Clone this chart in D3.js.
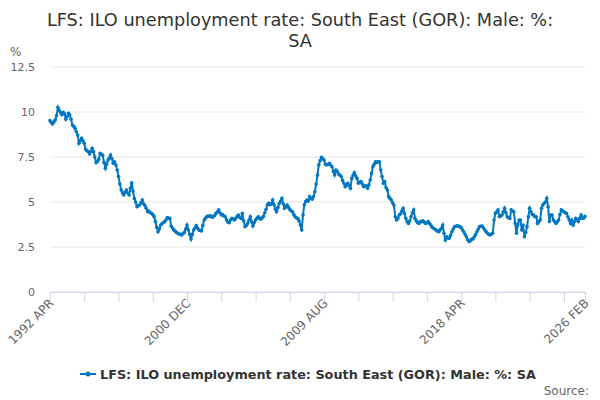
<!DOCTYPE html>
<html>
<head>
<meta charset="utf-8">
<title>LFS: ILO unemployment rate: South East (GOR): Male: %: SA</title>
<script src="https://d3js.org/d3.v7.min.js"></script>
<style>
  body { margin: 0; background: #fff; }
  svg { font-family: "DejaVu Sans", sans-serif; }
</style>
</head>
<body>
<div id="chart"></div>
<script>
// monthly values, 1992 APR .. 2026 FEB
const startYear = 1992, startMonth = 3; // APR
const monthNames = ["JAN","FEB","MAR","APR","MAY","JUN","JUL","AUG","SEP","OCT","NOV","DEC"];

const values = [
  // 1992 (Apr-Dec)
  9.52, 9.4, 9.33, 9.45, 9.56, 9.8, 10.26, 10.1, 9.96,
  // 1993
  9.85, 9.98, 9.9, 9.6, 9.75, 9.93, 9.83, 9.6, 9.28, 9.2, 9.09, 8.9,
  // 1994
  8.72, 8.26, 8.4, 8.54, 8.4, 8.26, 7.93, 7.85, 7.8, 7.67, 7.8, 7.98,
  // 1995
  7.8, 7.5, 7.18, 7.25, 7.37, 7.7, 7.65, 7.6, 7.2, 6.87, 7.1, 7.33,
  // 1996
  7.45, 7.61, 7.4, 7.15, 7.24, 7.05, 6.78, 6.41, 6.0, 5.67, 5.5, 5.39,
  // 1997
  5.55, 5.67, 5.5, 5.39, 5.76, 6.07, 5.6, 5.2, 5.0, 4.74, 4.8, 4.83,
  // 1998
  4.95, 5.11, 4.9, 4.8, 4.65, 4.46, 4.5, 4.4, 4.37, 4.3, 4.19, 3.91,
  // 1999
  3.6, 3.35, 3.5, 3.72, 3.8, 3.85, 3.91, 4.0, 4.13, 4.1, 4.09, 3.65,
  // 2000
  3.55, 3.44, 3.38, 3.3, 3.26, 3.22, 3.2, 3.17, 3.25, 3.31, 3.5, 3.72,
  // 2001
  3.44, 3.2, 2.94, 3.2, 3.44, 3.55, 3.69, 3.55, 3.44, 3.42, 3.39, 3.7,
  // 2002
  4.0, 4.1, 4.19, 4.22, 4.2, 4.24, 4.15, 4.19, 4.25, 4.37, 4.45, 4.56,
  // 2003
  4.4, 4.28, 4.3, 4.22, 4.18, 4.0, 3.88, 3.85, 4.0, 4.09, 4.05, 4.0,
  // 2004
  4.1, 4.2, 4.28, 4.15, 4.09, 4.37, 3.95, 3.63, 3.7, 3.81, 4.0, 4.18,
  // 2005
  3.9, 3.67, 3.85, 4.0, 4.1, 4.18, 4.1, 4.04, 4.12, 4.2, 4.4, 4.6,
  // 2006
  4.85, 4.93, 4.85, 4.9, 5.11, 4.85, 4.6, 4.46, 4.7, 4.93, 5.05, 5.2,
  // 2007
  4.9, 4.65, 4.75, 4.83, 4.7, 4.59, 4.5, 4.46, 4.3, 4.18, 4.12, 4.09,
  // 2008
  3.95, 3.72, 3.44, 4.28, 4.85, 5.02, 5.11, 5.05, 5.3, 5.2, 5.15, 5.3,
  // 2009
  5.57, 6.0, 6.5, 7.06, 7.3, 7.48, 7.4, 7.33, 7.1, 7.06, 7.1, 7.15,
  // 2010
  7.05, 6.96, 6.7, 6.5, 6.78, 6.7, 6.55, 6.5, 6.41, 6.2, 6.04, 5.85,
  // 2011
  5.95, 6.04, 5.9, 5.76, 6.31, 6.5, 6.63, 6.45, 6.31, 6.04, 6.1, 6.13,
  // 2012
  6.0, 5.85, 5.9, 5.89, 5.76, 5.95, 6.22, 6.59, 6.96, 7.1, 7.24, 7.2,
  // 2013
  7.24, 7.24, 6.78, 6.41, 6.04, 6.13, 5.8, 5.67, 5.3, 5.2, 5.11, 4.95,
  // 2014
  4.83, 4.18, 4.0, 4.1, 4.28, 4.35, 4.5, 4.65, 4.37, 4.1, 3.91, 3.81,
  // 2015
  3.95, 4.18, 4.4, 4.56, 4.09, 3.95, 3.85, 3.81, 3.91, 3.9, 3.96, 3.88,
  // 2016
  3.81, 3.85, 3.91, 3.8, 3.72, 3.6, 3.54, 3.5, 3.44, 3.38, 3.35, 3.45,
  // 2017
  3.54, 3.72, 3.26, 2.89, 3.07, 3.0, 2.98, 3.15, 3.35, 3.5, 3.63, 3.65,
  // 2018
  3.68, 3.67, 3.62, 3.59, 3.45, 3.35, 3.2, 3.07, 2.9, 2.8, 2.85, 2.93,
  // 2019
  2.95, 3.07, 3.2, 3.35, 3.5, 3.63, 3.65, 3.67, 3.55, 3.44, 3.35, 3.26,
  // 2020
  3.2, 3.17, 3.22, 3.26, 4.0, 4.37, 4.45, 4.56, 4.18, 4.22, 4.28, 4.45,
  // 2021
  4.65, 4.4, 4.18, 4.12, 4.09, 4.56, 4.5, 4.46, 3.81, 3.26, 3.72, 4.0,
  // 2022
  4.0, 3.44, 3.72, 3.07, 3.3, 3.63, 4.18, 4.65, 4.46, 4.3, 4.28, 4.18,
  // 2023
  4.18, 3.81, 3.9, 4.0, 4.65, 4.83, 4.93, 5.0, 5.2, 4.74, 3.91, 4.28,
  // 2024
  4.28, 4.0, 3.9, 3.81, 3.9, 4.0, 4.3, 4.56, 4.5, 4.46, 4.4, 4.37,
  // 2025
  4.18, 4.0, 3.81, 4.0, 3.72, 3.9, 4.09, 4.0, 3.91, 4.1, 4.28, 4.09,
  // 2026 (Jan-Feb)
  4.1, 4.2
];

const yTicks = [0, 2.5, 5, 7.5, 10, 12.5];
const xLabels = ["1992 APR", "2000 DEC", "2009 AUG", "2018 APR", "2026 FEB"];
const seriesName = "LFS: ILO unemployment rate: South East (GOR): Male: %: SA";

// month categories
let categories = values.map((v, i) => {
    let m = startMonth + i;
    return (startYear + Math.floor(m / 12)) + " " + monthNames[m % 12];
});
let data = values.map((v, i) => ({cat: categories[i], value: v}));

let width = 600, height = 400;
let margin = {left: 50, right: 15, top: 67, bottom: 108};

let svg = d3.select("#chart").append("svg")
    .attr("width", width)
    .attr("height", height);

let x = d3.scalePoint()
    .domain(categories)
    .range([margin.left, width - margin.right]);

let y = d3.scaleLinear()
    .domain([0, 12.5])
    .range([height - margin.bottom, margin.top]);

// title
svg.append("text")
    .attr("x", width / 2).attr("y", 26)
    .attr("text-anchor", "middle")
    .style("font-size", "17.7px").style("fill", "#333333")
    .selectAll("tspan")
    .data(["LFS: ILO unemployment rate: South East (GOR): Male: %:", "SA"])
    .enter().append("tspan")
    .attr("x", width / 2)
    .attr("dy", (d, i) => i == 0 ? 0 : 21)
    .text(d => d);

// gridlines + y labels
svg.append("g")
    .selectAll("line")
    .data(yTicks)
    .enter().append("line")
    .attr("x1", margin.left).attr("x2", width - margin.right)
    .attr("y1", d => y(d)).attr("y2", d => y(d))
    .attr("stroke", "#e6e6e6");

svg.append("g")
    .selectAll("text")
    .data(yTicks)
    .enter().append("text")
    .attr("x", 35).attr("y", d => y(d) + 4)
    .attr("text-anchor", "end")
    .style("font-size", "11px").style("fill", "#666666")
    .text(d => d);

svg.append("text")
    .attr("x", 10).attr("y", 56)
    .style("font-size", "12px").style("fill", "#666666")
    .text("%");

// x axis: a tick every 26 months plus the last month
let tickCats = categories.filter((c, i) => i % 26 == 0);
tickCats.push(categories[categories.length - 1]);

let xAxis = svg.append("g")
    .attr("transform", `translate(0, ${y(0)})`)
    .call(d3.axisBottom(x).tickValues(tickCats).tickSize(10).tickSizeOuter(0)
        .tickFormat(d => xLabels.includes(d) ? d : ""));
xAxis.select(".domain").attr("stroke", "#ccd6eb");
xAxis.selectAll(".tick line").attr("stroke", "#ccd6eb");
xAxis.selectAll(".tick text")
    .style("font-size", "12px").style("fill", "#666666")
    .style("font-family", "DejaVu Sans, sans-serif")
    .attr("text-anchor", "end")
    .attr("x", 0).attr("y", 0)
    .attr("dy", "0.35em")
    .attr("transform", "translate(1, 9) rotate(-45)");

// line + markers
let color = "#0077c0";
let line = d3.line()
    .x(d => x(d.cat))
    .y(d => y(d.value));

svg.append("path")
    .datum(data)
    .attr("d", line)
    .attr("fill", "none")
    .attr("stroke", color)
    .attr("stroke-width", 2);

svg.append("g")
    .selectAll("circle")
    .data(data)
    .enter().append("circle")
    .attr("cx", d => x(d.cat))
    .attr("cy", d => y(d.value))
    .attr("r", 1.8)
    .attr("fill", color);

// legend
let legend = svg.append("g").attr("transform", "translate(0, 374)");
legend.append("line")
    .attr("x1", 80).attr("x2", 96)
    .attr("stroke", color).attr("stroke-width", 2);
legend.append("circle")
    .attr("cx", 88).attr("r", 2.5).attr("fill", color);
legend.append("text")
    .attr("x", 100).attr("y", 5)
    .style("font-size", "12.8px").style("font-weight", "bold").style("fill", "#333333")
    .text(seriesName);

// source
svg.append("text")
    .attr("x", 589).attr("y", 395)
    .attr("text-anchor", "end")
    .style("font-size", "12px").style("fill", "#666666")
    .text("Source:");
</script>
</body>
</html>
